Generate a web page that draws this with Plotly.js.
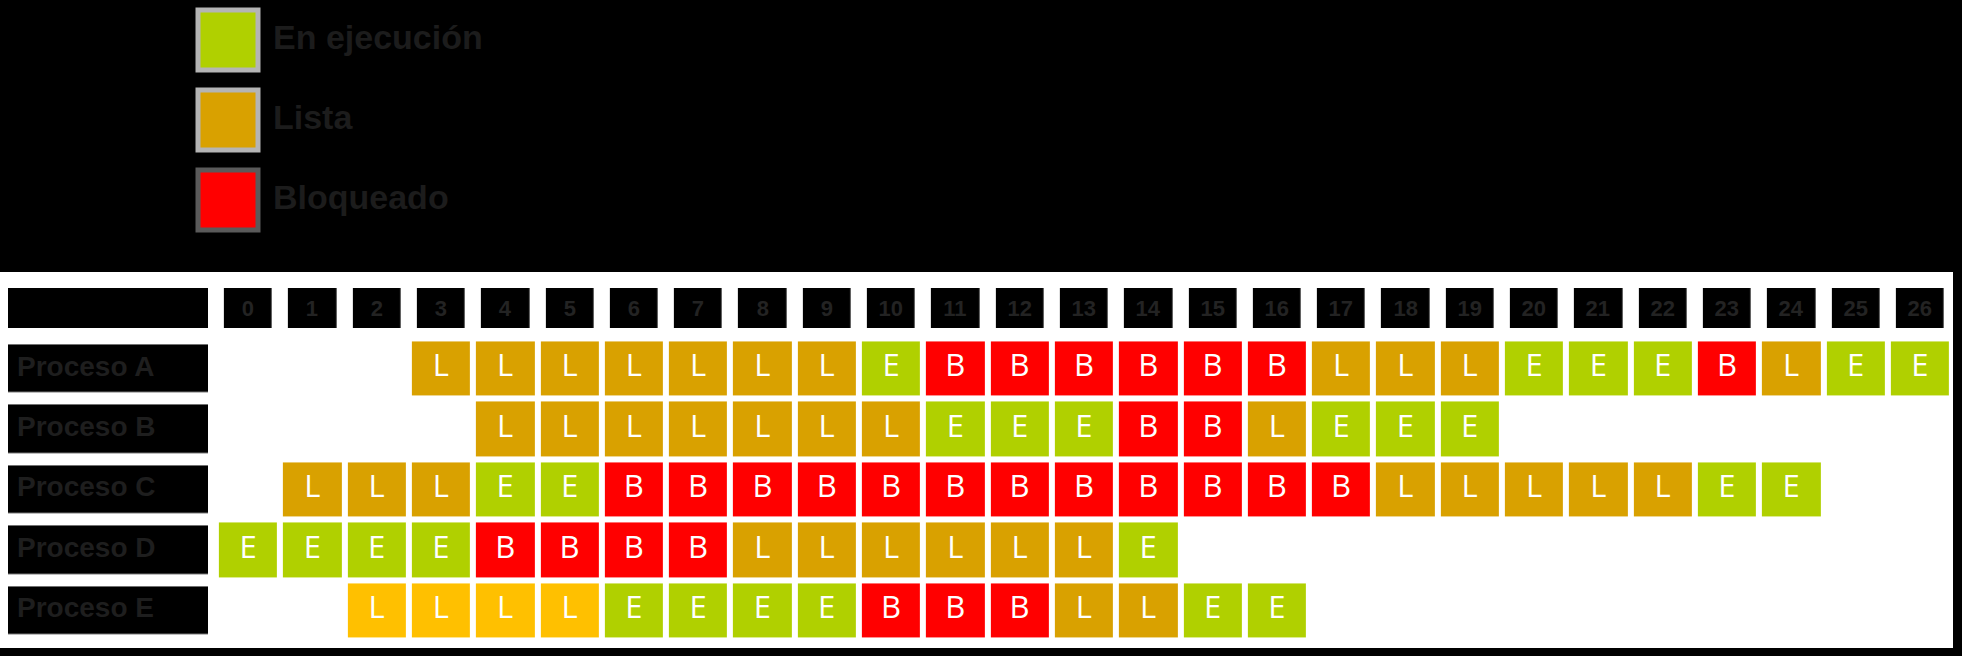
<!DOCTYPE html>
<html>
<head>
<meta charset="utf-8">
<script src="https://cdn.plot.ly/plotly-3.0.1.min.js"></script>
<style>
html,body{margin:0;padding:0;background:#000;}
#chart{width:1962px;height:656px;}
</style>
</head>
<body>
<div id="chart"></div>
<script>
// ---- Data ----
const columnas = [0,1,2,3,4,5,6,7,8,9,10,11,12,13,14,15,16,17,18,19,20,21,22,23,24,25,26];
const procesos = ['Proceso A','Proceso B','Proceso C','Proceso D','Proceso E'];
// E = En ejecución, L = Lista, B = Bloqueado, l = Lista (tono claro), null = vacío
const procesoA = [null,null,null,'L','L','L','L','L','L','L','E','B','B','B','B','B','B','L','L','L','E','E','E','B','L','E','E'];
const procesoB = [null,null,null,null,'L','L','L','L','L','L','L','E','E','E','B','B','L','E','E','E',null,null,null,null,null,null,null];
const procesoC = [null,'L','L','L','E','E','B','B','B','B','B','B','B','B','B','B','B','B','L','L','L','L','L','E','E',null,null];
const procesoD = ['E','E','E','E','B','B','B','B','L','L','L','L','L','L','E',null,null,null,null,null,null,null,null,null,null,null,null];
const procesoE = [null,null,'l','l','l','l','E','E','E','E','B','B','B','L','L','E','E',null,null,null,null,null,null,null,null,null,null];
const leyendaTextos = ['En ejecución','Lista','Bloqueado'];
const leyendaColores = ['#B0D000','#D9A100','#FF0000'];
const leyendaBordes = ['#B4B4B4','#B4B4B4','#5A5A5A'];

// ---- Build ----
const W = 1962, H = 656;
const estados = [procesoA, procesoB, procesoC, procesoD, procesoE];
const codigo = {E:0, L:1, B:2, l:3};
const zCeldas = estados.map(r => r.map(s => s === null ? null : codigo[s]));
const filas = procesos.map((_, i) => i + 1);   // row 0 = header
const letraX = [], letraY = [], letraT = [];
estados.forEach((r, i) => r.forEach((s, j) => {
  if (s !== null) { letraX.push(columnas[j]); letraY.push(filas[i]); letraT.push(s.toUpperCase()); }
}));
const verde = '#B0D000', naranja = '#D9A100', rojo = '#FF0000', amarillo = '#FFC000';
const escala = [[0,verde],[0.1667,verde],[0.1667,naranja],[0.5,naranja],[0.5,rojo],[0.8333,rojo],[0.8333,amarillo],[1,amarillo]];
const negro = [[0,'#000'],[1,'#000']];
const px = v => v / W;
const py = v => 1 - v / H;

const traces = [
  {type:'heatmap', x: columnas, y: filas, z: zCeldas,
   colorscale: escala, zmin:0, zmax:3, showscale:false, xgap:6, ygap:6,
   hoverinfo:'skip', xaxis:'x', yaxis:'y'},
  {type:'scatter', mode:'text', x: letraX, y: letraY, text: letraT, textposition:'middle center',
   textfont:{color:'#FFFFFF', size:31, family:'Open Sans'},
   hoverinfo:'skip', showlegend:false, xaxis:'x', yaxis:'y'},
  {type:'heatmap', x: columnas, y:[0], z:[columnas.map(() => 0)], text:[columnas.map(String)],
   texttemplate:'%{text}', textfont:{color:'#232323', size:22, family:'Liberation Sans', weight:'bold'},
   colorscale: negro, zmin:0, zmax:1, showscale:false, xgap:16.3, ygap:20,
   hoverinfo:'skip', xaxis:'x', yaxis:'y'},
  {type:'heatmap', x:[0.5], y: filas, z: filas.map(() => [0]),
   colorscale: negro, zmin:0, zmax:1, showscale:false, ygap:12.4,
   hoverinfo:'skip', xaxis:'x2', yaxis:'y'},
  {type:'heatmap', x:[0.5], y:[0], z:[[0]],
   colorscale: negro, zmin:0, zmax:1, showscale:false, ygap:20,
   hoverinfo:'skip', xaxis:'x2', yaxis:'y'},
  {type:'scatter', mode:'text', x: filas.map(() => 0.045), y: filas, text: procesos,
   textposition:'middle right', textfont:{color:'#1E1E1E', size:28, family:'Liberation Sans', weight:'bold'},
   hoverinfo:'skip', showlegend:false, xaxis:'x2', yaxis:'y'},
  {type:'scatter', mode:'markers', x: leyendaTextos.map(() => 0), y: leyendaTextos.map((_, i) => i),
   marker:{symbol:'square', size:60, color: leyendaColores, line:{color: leyendaBordes, width:5}},
   hoverinfo:'skip', showlegend:false, xaxis:'x3', yaxis:'y3'},
  {type:'scatter', mode:'text', x: leyendaTextos.map(() => 1), y: leyendaTextos.map((_, i) => i), text: leyendaTextos,
   textposition:'middle right', textfont:{color:'#1C1C1C', size:34, family:'Liberation Sans', weight:'bold'},
   hoverinfo:'skip', showlegend:false, xaxis:'x3', yaxis:'y3'}
];

const hidden = {showgrid:false, zeroline:false, showticklabels:false, showline:false, ticks:'', fixedrange:true};
const colW = 64.3, col0 = 248;
const xL = col0 - colW/2, xR = col0 + colW*(columnas.length - 0.5);
const rowH = 60.4, yTop = 278, nRows = procesos.length + 1;

const layout = {
  width: W, height: H,
  margin:{l:0, r:0, t:0, b:0, pad:0},
  paper_bgcolor:'#000000', plot_bgcolor:'rgba(0,0,0,0)',
  showlegend:false,
  xaxis: Object.assign({}, hidden, {type:'linear', domain:[px(xL), px(xR)], range:[-0.5, columnas.length - 0.5], anchor:'y'}),
  yaxis: Object.assign({}, hidden, {type:'linear', domain:[py(yTop + rowH*nRows), py(yTop)], range:[nRows - 0.5, -0.5], anchor:'x'}),
  xaxis2: Object.assign({}, hidden, {type:'linear', domain:[px(8), px(208)], range:[0,1], anchor:'y'}),
  xaxis3: Object.assign({}, hidden, {type:'linear', domain:[0,1], range:[-228/45, (W-228)/45], anchor:'y3'}),
  yaxis3: Object.assign({}, hidden, {type:'linear', domain:[py(240), 1], range:[2.5, -0.5], anchor:'x3'}),
  shapes:[{type:'rect', xref:'paper', yref:'paper', x0:0, x1:px(1953), y0:py(648), y1:py(272),
           fillcolor:'#FFFFFF', line:{width:0}, layer:'below'}]
};

Plotly.newPlot('chart', traces, layout, {staticPlot:true, displayModeBar:false});
</script>
</body>
</html>
